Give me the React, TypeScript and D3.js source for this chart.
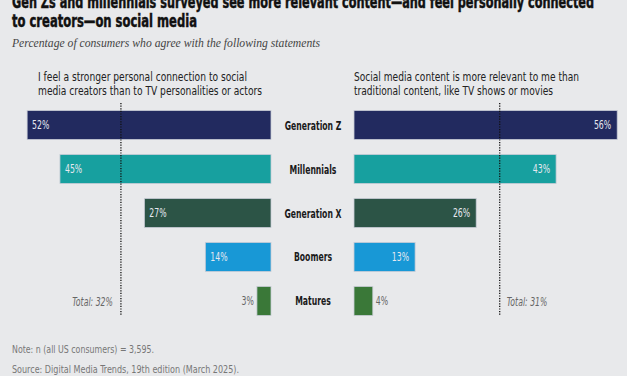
import React from "react";
import * as d3 from "d3";

const categories = ["Generation Z", "Millennials", "Generation X", "Boomers", "Matures"];
const connectionValues = [52, 45, 27, 14, 3];
const relevanceValues = [56, 43, 26, 13, 4];
const colors = ["#222a5f", "#17a09f", "#2c5446", "#1898d6", "#3a7838"];
const totalConnection = 32;
const totalRelevance = 31;
const titleLines = [
  "Gen Zs and millennials surveyed see more relevant content\u2014and feel personally connected",
  "to creators\u2014on social media",
];
const subtitle = "Percentage of consumers who agree with the following statements";
const leftHeader = [
  "I feel a stronger personal connection to social",
  "media creators than to TV personalities or actors",
];
const rightHeader = [
  "Social media content is more relevant to me than",
  "traditional content, like TV shows or movies",
];
const note = "Note: n (all US consumers) = 3,595.";
const source = "Source: Digital Media Trends, 19th edition (March 2025).";

const W = 627;
const H = 376;
const COND = "'Liberation Sans Narrow', 'DejaVu Sans Condensed', 'Roboto Condensed', Roboto, sans-serif";

function CondText(props: {
  x: number;
  y: number;
  sx: number;
  anchor?: "start" | "middle" | "end";
  size: number;
  fill: string;
  weight?: number;
  italic?: boolean;
  children: React.ReactNode;
}) {
  return (
    <text
      transform={`translate(${props.x},${props.y}) scale(${props.sx},1)`}
      textAnchor={props.anchor || "start"}
      fontFamily={COND}
      fontSize={props.size}
      fill={props.fill}
      fontWeight={props.weight || 400}
      fontStyle={props.italic ? "italic" : "normal"}
    >
      {props.children}
    </text>
  );
}

export default function App() {
  const xLeft = d3.scaleLinear().domain([0, 60]).range([271, 271 - 60 * 4.69]);
  const xRight = d3.scaleLinear().domain([0, 60]).range([354, 354 + 60 * 4.7]);
  const y = d3
    .scaleBand<string>()
    .domain(categories)
    .range([110.5, 315.5])
    .paddingInner(0.34)
    .paddingOuter(0)
    .align(0);
  const bh = y.bandwidth();
  const lastY = (y(categories[categories.length - 1]) as number) + bh;

  return (
    <div style={{ position: "fixed", left: 0, top: 0, width: W, height: H, background: "#e8e9eb" }}>
      <svg width={W} height={H} style={{ display: "block" }}>
        <rect x={0} y={0} width={W} height={H} fill="#e8e9eb" />
        {/* title */}
        <text x={12} y={8} fontFamily={COND} fontWeight={700} fontSize={18} fill="#111" stroke="#111" strokeWidth={0.5} textLength={582} lengthAdjust="spacingAndGlyphs">
          {titleLines[0]}
        </text>
        <text x={12} y={27} fontFamily={COND} fontWeight={700} fontSize={18} fill="#111" stroke="#111" strokeWidth={0.5} textLength={185} lengthAdjust="spacingAndGlyphs">
          {titleLines[1]}
        </text>
        <text x={12} y={47} fontFamily="'Liberation Serif', 'DejaVu Serif', serif" fontStyle="italic" fontSize={12.5} fill="#444" textLength={308} lengthAdjust="spacingAndGlyphs">
          {subtitle}
        </text>

        {/* headers */}
        {leftHeader.map((t, i) => (
          <text key={"lh" + i} x={38} y={80.5 + i * 14} fontFamily={COND} fontSize={13} fill="#222" textLength={i === 0 ? 209 : 224} lengthAdjust="spacingAndGlyphs">
            {t}
          </text>
        ))}
        {rightHeader.map((t, i) => (
          <text key={"rh" + i} x={354} y={80.5 + i * 14} fontFamily={COND} fontSize={13} fill="#222" textLength={i === 0 ? 225 : 199} lengthAdjust="spacingAndGlyphs">
            {t}
          </text>
        ))}

        {/* bars */}
        {categories.map((c, i) => {
          const yy = y(c) as number;
          const lv = connectionValues[i];
          const rv = relevanceValues[i];
          const lx = xLeft(lv);
          const rx = xRight(rv);
          const lw = xLeft(0) - lx;
          const rw = rx - xRight(0);
          const ty = yy + bh / 2 + 4;
          return (
            <g key={c}>
              <rect x={lx} y={yy} width={lw} height={bh} fill={colors[i]} stroke="#c9ccd6" strokeWidth={0.8} />
              <rect x={xRight(0)} y={yy} width={rw} height={bh} fill={colors[i]} stroke="#c9ccd6" strokeWidth={0.8} />
              {lw > 30 ? (
                <CondText x={lx + 5} y={ty} sx={0.72} size={12} fill="#e6e8f0">{lv}%</CondText>
              ) : (
                <CondText x={lx - 3} y={ty} sx={0.72} anchor="end" size={12} fill="#666">{lv}%</CondText>
              )}
              {rw > 30 ? (
                <CondText x={rx - 6} y={ty} sx={0.72} anchor="end" size={12} fill="#e6e8f0">{rv}%</CondText>
              ) : (
                <CondText x={rx + 3} y={ty} sx={0.72} size={12} fill="#666">{rv}%</CondText>
              )}
              <CondText x={313} y={ty + 0.5} sx={0.66} anchor="middle" size={13} weight={700} fill="#1a1a1a">
                {c}
              </CondText>
            </g>
          );
        })}

        {/* total lines */}
        <line x1={xLeft(totalConnection)} x2={xLeft(totalConnection)} y1={103} y2={lastY} stroke="#111" strokeWidth={1.3} strokeDasharray="1.2,1.4" />
        <line x1={xRight(totalRelevance)} x2={xRight(totalRelevance)} y1={103} y2={lastY} stroke="#111" strokeWidth={1.3} strokeDasharray="1.2,1.4" />
        <CondText x={xLeft(totalConnection) - 8} y={306} sx={0.72} anchor="end" size={12} italic fill="#666">
          Total: {totalConnection}%
        </CondText>
        <CondText x={xRight(totalRelevance) + 7} y={306} sx={0.72} size={12} italic fill="#666">
          Total: {totalRelevance}%
        </CondText>

        {/* notes */}
        <text x={12} y={353} fontFamily={COND} fontSize={11} fill="#777" textLength={142} lengthAdjust="spacingAndGlyphs">
          {note}
        </text>
        <text x={12} y={373} fontFamily={COND} fontSize={11} fill="#777" textLength={227} lengthAdjust="spacingAndGlyphs">
          {source}
        </text>
      </svg>
    </div>
  );
}
